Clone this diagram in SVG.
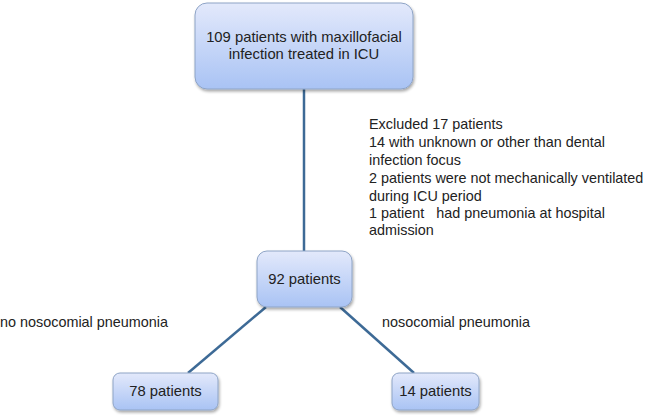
<svg xmlns="http://www.w3.org/2000/svg" width="649" height="415" viewBox="0 0 649 415">
<defs>
<linearGradient id="g" x1="0" y1="0" x2="0" y2="1">
<stop offset="0" stop-color="#e3e9fb"/>
<stop offset="1" stop-color="#a9c3f4"/>
</linearGradient>
<filter id="sh" x="-10%" y="-10%" width="130%" height="140%">
<feGaussianBlur in="SourceAlpha" stdDeviation="1.5"/>
<feOffset dx="1" dy="2" result="b"/>
<feComponentTransfer><feFuncA type="linear" slope="0.35"/></feComponentTransfer>
<feMerge><feMergeNode/><feMergeNode in="SourceGraphic"/></feMerge>
</filter>
</defs>
<style>
.box{fill:url(#g);stroke:#8ea4c6;stroke-width:1;filter:url(#sh)}
.t{font-family:"Liberation Sans",Arial,sans-serif;font-size:14.4px;fill:#222}
.tb{font-family:"Liberation Sans",Arial,sans-serif;font-size:14.8px;fill:#222;text-anchor:middle}
.c{stroke:#3d6a96;stroke-width:2.5;fill:none}
</style>
<rect width="649" height="415" fill="#fff"/>
<g id="connectors">
<line class="c" x1="304" y1="89" x2="304" y2="251"/>
<line class="c" x1="266" y1="307" x2="188" y2="373"/>
<line class="c" x1="340" y1="307" x2="414" y2="373"/>
</g>
<g id="n109">
<rect class="box" x="195" y="3" width="218" height="86" rx="12"/>
<text class="tb" x="304" y="42">109 patients with maxillofacial</text>
<text class="tb" x="304" y="59">infection treated in ICU</text>
</g>
<g id="excluded">
<text class="t" x="369" y="129">Excluded 17 patients</text>
<text class="t" x="369" y="147">14 with unknown or other than dental</text>
<text class="t" x="369" y="165">infection focus</text>
<text class="t" x="369" y="183">2 patients were not mechanically ventilated</text>
<text class="t" x="369" y="201">during ICU period</text>
<text class="t" x="369" y="218" xml:space="preserve">1 patient   had pneumonia at hospital</text>
<text class="t" x="369" y="235">admission</text>
</g>
<g id="n92">
<rect class="box" x="257" y="251" width="95" height="56" rx="10"/>
<text class="tb" x="304.5" y="284">92 patients</text>
</g>
<g id="label-no">
<text class="t" x="0" y="327">no nosocomial pneumonia</text>
</g>
<g id="label-yes">
<text class="t" x="382" y="327">nosocomial pneumonia</text>
</g>
<g id="n78">
<rect class="box" x="113" y="373" width="105" height="37" rx="7"/>
<text class="tb" x="165.5" y="396">78 patients</text>
</g>
<g id="n14">
<rect class="box" x="392" y="373" width="87" height="37" rx="7"/>
<text class="tb" x="435.5" y="396">14 patients</text>
</g>
</svg>
